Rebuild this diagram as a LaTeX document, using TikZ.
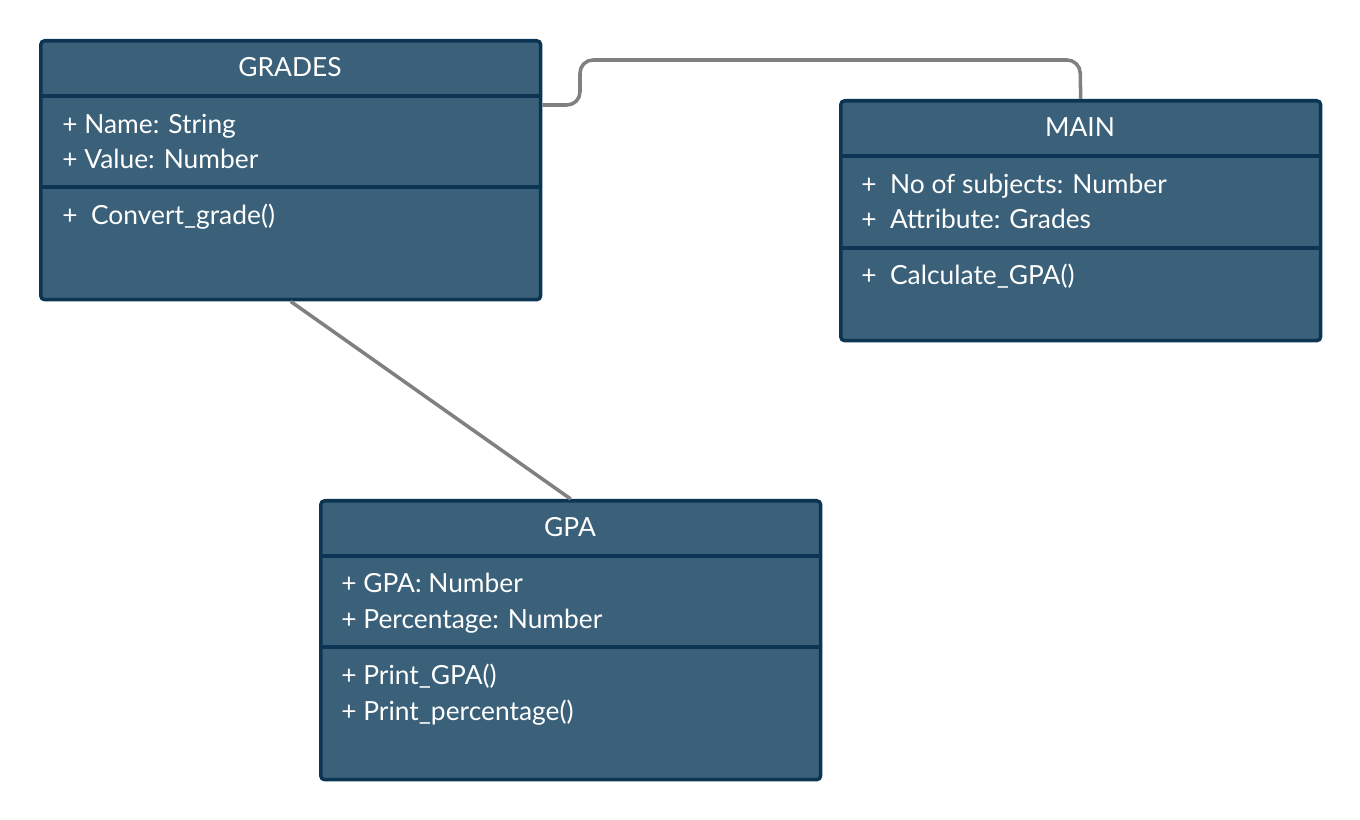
\documentclass[tikz,border=0pt]{standalone}
\usepackage{fontspec}
\setmainfont{Lato}
\usetikzlibrary{positioning}

\definecolor{boxfill}{HTML}{3A6179}
\definecolor{boxline}{HTML}{0C3453}
\definecolor{linkgray}{HTML}{808080}

\tikzset{
    classbox/.style = {draw=boxline, fill=boxfill, line width=2pt, rounded corners=0.08cm,
                       anchor=north west, inner sep=0pt},
    classname/.style = {text=white, anchor=base, font=\fontsize{15}{18}\selectfont},
    member/.style = {text=white, anchor=base west, inner sep=0pt, font=\fontsize{15}{18}\selectfont},
    divider/.style = {draw=boxline, line width=2pt},
    link/.style = {draw=linkgray, line width=2pt}
}

\begin{document}
\begin{tikzpicture} [x=0.02cm, y=-0.02cm]

    \useasboundingbox (0,0) rectangle (1360,820);

    % class boxes
    \node (grades) [classbox, minimum width=10cm, minimum height=5.18cm] at (39,39) {};
    \node (main) [classbox, minimum width=9.6cm, minimum height=4.8cm] at (839,99) {};
    \node (gpa) [classbox, minimum width=10cm, minimum height=5.58cm] at (319,499) {};

    \draw [divider] (grades.west |- 0,96) -- (grades.east |- 0,96);
    \draw [divider] (grades.west |- 0,187) -- (grades.east |- 0,187);
    \draw [divider] (main.west |- 0,156) -- (main.east |- 0,156);
    \draw [divider] (main.west |- 0,248) -- (main.east |- 0,248);
    \draw [divider] (gpa.west |- 0,556) -- (gpa.east |- 0,556);
    \draw [divider] (gpa.west |- 0,647) -- (gpa.east |- 0,647);

    % GRADES
    \node (grades-title) [classname] at (290,77) {GRADES};
    \node (grades-name) [member] at (62,134) {+ Name: String};
    \node (grades-value) [member] at (62,169) {+ Value: Number};
    \node (grades-convert) [member] at (62,225) {+\ \ Convert\_grade()};

    % MAIN
    \node (main-title) [classname] at (1080,137) {MAIN};
    \node (main-subjects) [member] at (861,194) {+\ \ No of subjects: Number};
    \node (main-attr) [member] at (861,229) {+\ \ Attribute: Grades};
    \node (main-calc) [member] at (861,285) {+\ \ Calculate\_GPA()};

    % GPA
    \node (gpa-title) [classname] at (570,537) {GPA};
    \node (gpa-gpa) [member] at (341,593) {+ GPA: Number};
    \node (gpa-perc) [member] at (341,629) {+ Percentage: Number};
    \node (gpa-printgpa) [member] at (341,685) {+ Print\_GPA()};
    \node (gpa-printperc) [member] at (341,721) {+ Print\_percentage()};

    % associations
    \draw [link, rounded corners=0.26cm] (grades.east |- 0,105) -- (580,105) -- (580,60) -- (1080,60) -- (main.north);
    \draw [link] (grades.south) -- (gpa.north);

\end{tikzpicture}
\end{document}
